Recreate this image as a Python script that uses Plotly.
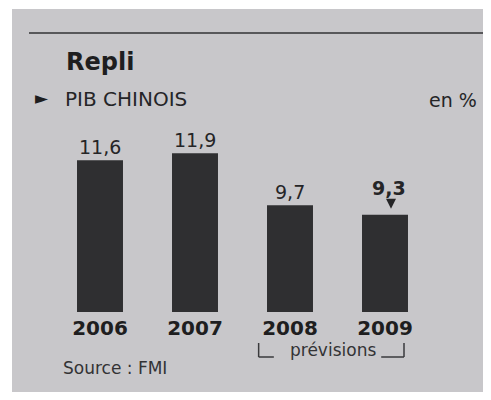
import plotly.graph_objects as go

# ---- data ----
years = ["2006", "2007", "2008", "2009"]
values = [11.6, 11.9, 9.7, 9.3]
labels = ["11,6", "11,9", "9,7", "9,3"]
forecast_years = ["2008", "2009"]

title = "Repli"
subtitle = "PIB CHINOIS"
unit = "en %"
source = "Source : FMI"
forecast_label = "prévisions"

# ---- layout constants ----
OFF = 8                      # page body margin of the html page
W, H = 491 - 2 * OFF, 400 - 2 * OFF
BASE_PX = 312                # window y of the bars' baseline
PH = BASE_PX - OFF           # plot-area height in figure pixels
MB = H - PH                  # bottom margin
Y0 = 5.2                     # value at the bars' baseline
PX_PER_UNIT = 23.7
Y1 = Y0 + PH / PX_PER_UNIT
STEP = 95                    # pixels between bar centres
FIRST = 100 - OFF            # figure x of the first bar centre
X_RANGE = [-FIRST / STEP, (W - FIRST) / STEP]

BG = "#c8c7ca"
BAR = "#2f2f31"
INK = "#252527"
FONT = "DejaVu Sans"


def xp(px):
    """window pixel x -> paper x"""
    return (px - OFF) / W


def yp(py):
    """window pixel y -> paper y"""
    return (PH - (py - OFF)) / PH


fig = go.Figure()
fig.add_trace(go.Bar(x=years, y=values, marker=dict(color=BAR, line=dict(width=0)),
                     hoverinfo="skip"))

shapes = [
    # photographed page background
    dict(type="rect", xref="paper", yref="paper", x0=xp(12), x1=xp(500),
         y0=yp(9), y1=yp(420), fillcolor=BG, line=dict(width=0), layer="below"),
    # top rule
    dict(type="line", xref="paper", yref="paper", x0=xp(29), x1=xp(500),
         y0=yp(33), y1=yp(33), line=dict(color="#58585a", width=2)),
    # small down-pointing triangle above the last bar (pixel-sized, anchored on the bar)
    dict(type="path", xref="x", yref="y", xsizemode="pixel", ysizemode="pixel",
         xanchor=len(values) - 1, yanchor=values[-1],
         path="M 1,16 L 11,16 L 6,6 Z", fillcolor=INK, line=dict(width=0)),
]

# forecast bracket below 2008-2009
i0 = years.index(forecast_years[0])
i1 = years.index(forecast_years[-1])
bl, br = i0 - 0.33, i1 + 0.2
ytop, ybot = yp(343), yp(357)
bracket = dict(color="#3a3a3c", width=1.5)
shapes += [
    dict(type="line", xref="x", yref="paper", x0=bl, x1=bl, y0=ytop, y1=ybot, line=bracket),
    dict(type="line", xref="x", yref="paper", x0=bl, x1=bl + 0.16, y0=ybot, y1=ybot, line=bracket),
    dict(type="line", xref="x", yref="paper", x0=br, x1=br, y0=ytop, y1=ybot, line=bracket),
    dict(type="line", xref="x", yref="paper", x0=br - 0.24, x1=br, y0=ybot, y1=ybot, line=bracket),
]

ann = []
# value labels
for i, (v, lab) in enumerate(zip(values, labels)):
    last = i == len(values) - 1
    ann.append(dict(x=i, y=v, xref="x", yref="y", text=lab, showarrow=False,
                    yanchor="middle", yshift=27 if last else 13, xshift=4 if last else 0,
                    font=dict(family=FONT, size=19, color=INK,
                              weight="bold" if last else "normal")))

# header texts
ann += [
    dict(x=xp(64), y=yp(62), xref="paper", yref="paper", text=title, showarrow=False,
         xanchor="left", yanchor="middle",
         font=dict(family=FONT, size=24, color="#1e1e20", weight="bold")),
    dict(x=xp(33), y=yp(98), xref="paper", yref="paper", text="►", showarrow=False,
         xanchor="left", yanchor="middle", font=dict(family=FONT, size=17, color="#1e1e20")),
    dict(x=xp(63), y=yp(99), xref="paper", yref="paper", text=subtitle, showarrow=False,
         xanchor="left", yanchor="middle", font=dict(family=FONT, size=20, color=INK)),
    dict(x=xp(479), y=yp(100), xref="paper", yref="paper", text=unit, showarrow=False,
         xanchor="right", yanchor="middle", font=dict(family=FONT, size=19, color=INK)),
    dict(x=xp(61), y=yp(368), xref="paper", yref="paper", text=source, showarrow=False,
         xanchor="left", yanchor="middle", font=dict(family=FONT, size=17, color="#333335")),
    dict(x=(bl + br) / 2 + 0.02, y=yp(350), xref="x", yref="paper", text=forecast_label,
         showarrow=False, xanchor="center", yanchor="middle",
         font=dict(family=FONT, size=17, color="#333335")),
]

fig.update_layout(
    width=W, height=H,
    margin=dict(l=0, r=0, t=0, b=MB, pad=0),
    paper_bgcolor="white", plot_bgcolor="rgba(0,0,0,0)",
    bargap=0.516, showlegend=False,
    shapes=shapes, annotations=ann,
    xaxis=dict(type="category", range=X_RANGE, showgrid=False, zeroline=False,
               showline=False, ticks="", ticklabelstandoff=2,
               tickfont=dict(family=FONT, size=20, color="#1e1e20", weight="bold"),
               fixedrange=True),
    yaxis=dict(range=[Y0, Y1], visible=False, fixedrange=True),
)

fig.write_html("out.html", config=dict(displayModeBar=False))
